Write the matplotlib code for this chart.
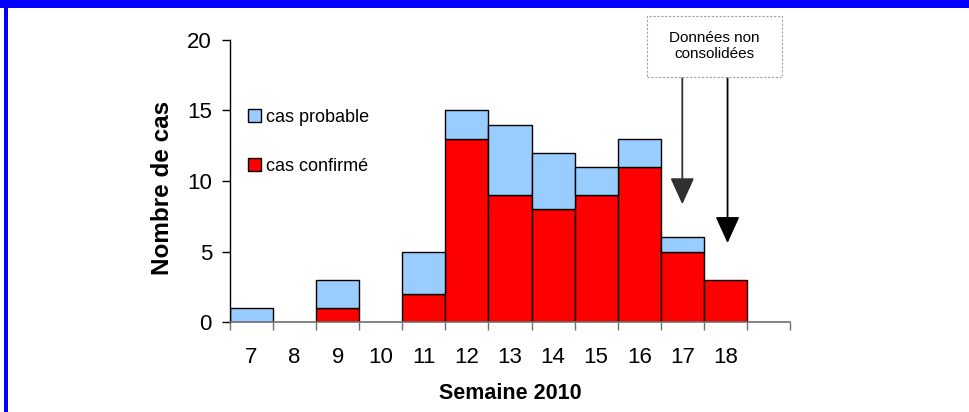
import numpy as np
import matplotlib.pyplot as plt
from matplotlib.patches import Rectangle

plt.rcParams['font.family'] = ['Liberation Sans', 'DejaVu Sans']

# Weekly case counts, 2010
semaines = ['7', '8', '9', '10', '11', '12', '13', '14', '15', '16', '17', '18']
confirmes = [0, 0, 1, 0, 2, 13, 9, 8, 9, 11, 5, 3]
probables = [1, 0, 2, 0, 3, 2, 5, 4, 2, 2, 1, 0]

bleu = '#99CCFF'
rouge = '#FF0000'

fig = plt.figure(figsize=(9.7, 4.12), dpi=100)
ax = fig.add_axes([230 / 970, 1 - 322 / 412, 560 / 970, 282 / 412])

x = np.arange(len(semaines))
conf = np.array(confirmes)
prob = np.array(probables)

m = conf > 0
ax.bar(x[m], conf[m], width=1, color=rouge, edgecolor='black', linewidth=1, zorder=2)
m = prob > 0
ax.bar(x[m], prob[m], bottom=conf[m], width=1, color=bleu, edgecolor='black',
       linewidth=1, zorder=2)

# legend handles
hp = Rectangle((0, 0), 1, 1, facecolor=bleu, edgecolor='black', linewidth=1)
hc = Rectangle((0, 0), 1, 1, facecolor=rouge, edgecolor='black', linewidth=1)
ax.legend([hp, hc], ['cas probable', 'cas confirmé'], loc='upper left',
          bbox_to_anchor=(18 / 560, (322 - 109) / 282), frameon=False,
          fontsize=13, handlelength=0.7, handleheight=0.7, handletextpad=0.3,
          labelspacing=1.75, borderpad=0, borderaxespad=0)

ax.set_xlim(-0.5, 12.5)
ax.set_ylim(0, 20)
ax.set_yticks([0, 5, 10, 15, 20])
ax.tick_params(axis='y', length=6, width=1, pad=7, labelsize=16, direction='out')

ax.set_xticks(np.arange(-0.5, 13, 1))
ax.set_xticklabels([])
ax.set_xticks(x, minor=True)
ax.set_xticklabels(semaines, minor=True)
ax.tick_params(axis='x', which='major', length=6, width=1, color='#707070', direction='out')
ax.tick_params(axis='x', which='minor', length=0, pad=18, labelsize=16)

for s in ['top', 'right']:
    ax.spines[s].set_visible(False)
ax.spines['bottom'].set_color('#707070')
ax.spines['bottom'].set_linewidth(1.2)
ax.spines['left'].set_linewidth(1)

ax.set_xlabel('Semaine 2010', fontsize=15.5, fontweight='bold')
ax.xaxis.set_label_coords(0.5, (322 - 383) / 282)
ax.set_ylabel('Nombre de cas', fontsize=17.5, fontweight='bold')
ax.yaxis.set_label_coords(-56 / 560, 0.477)

# note box
fig.patches.append(Rectangle((647 / 970, 1 - 77 / 412), 135 / 970, 61 / 412,
                             transform=fig.transFigure, facecolor='white',
                             edgecolor='#A0A0A0', linewidth=0.8, linestyle=(0, (2, 1.5))))
fig.text(714.5 / 970, 1 - 46 / 412, 'Données non\nconsolidées', ha='center', va='center',
         fontsize=11, linespacing=1.15)

arrow_kw = dict(arrowstyle='-|>,head_length=1.1,head_width=0.5', color='black',
                linewidth=1.3, shrinkA=0, shrinkB=0, mutation_scale=15)
ax.annotate('', xy=(10.0, 8.35), xytext=(10.0, 17.45),
            arrowprops=dict(arrow_kw, color='#303030'), annotation_clip=False)
ax.annotate('', xy=(11.05, 5.6), xytext=(11.05, 17.45),
            arrowprops=arrow_kw, annotation_clip=False)

# blue frame
fig.patches.append(Rectangle((0, 1 - 8 / 412), 1, 8 / 412, transform=fig.transFigure,
                             facecolor='#0000FF', edgecolor='none'))
fig.patches.append(Rectangle((4 / 970, 0), 4 / 970, 1, transform=fig.transFigure,
                             facecolor='#0000FF', edgecolor='none'))

fig.savefig('out.png', dpi=100)
